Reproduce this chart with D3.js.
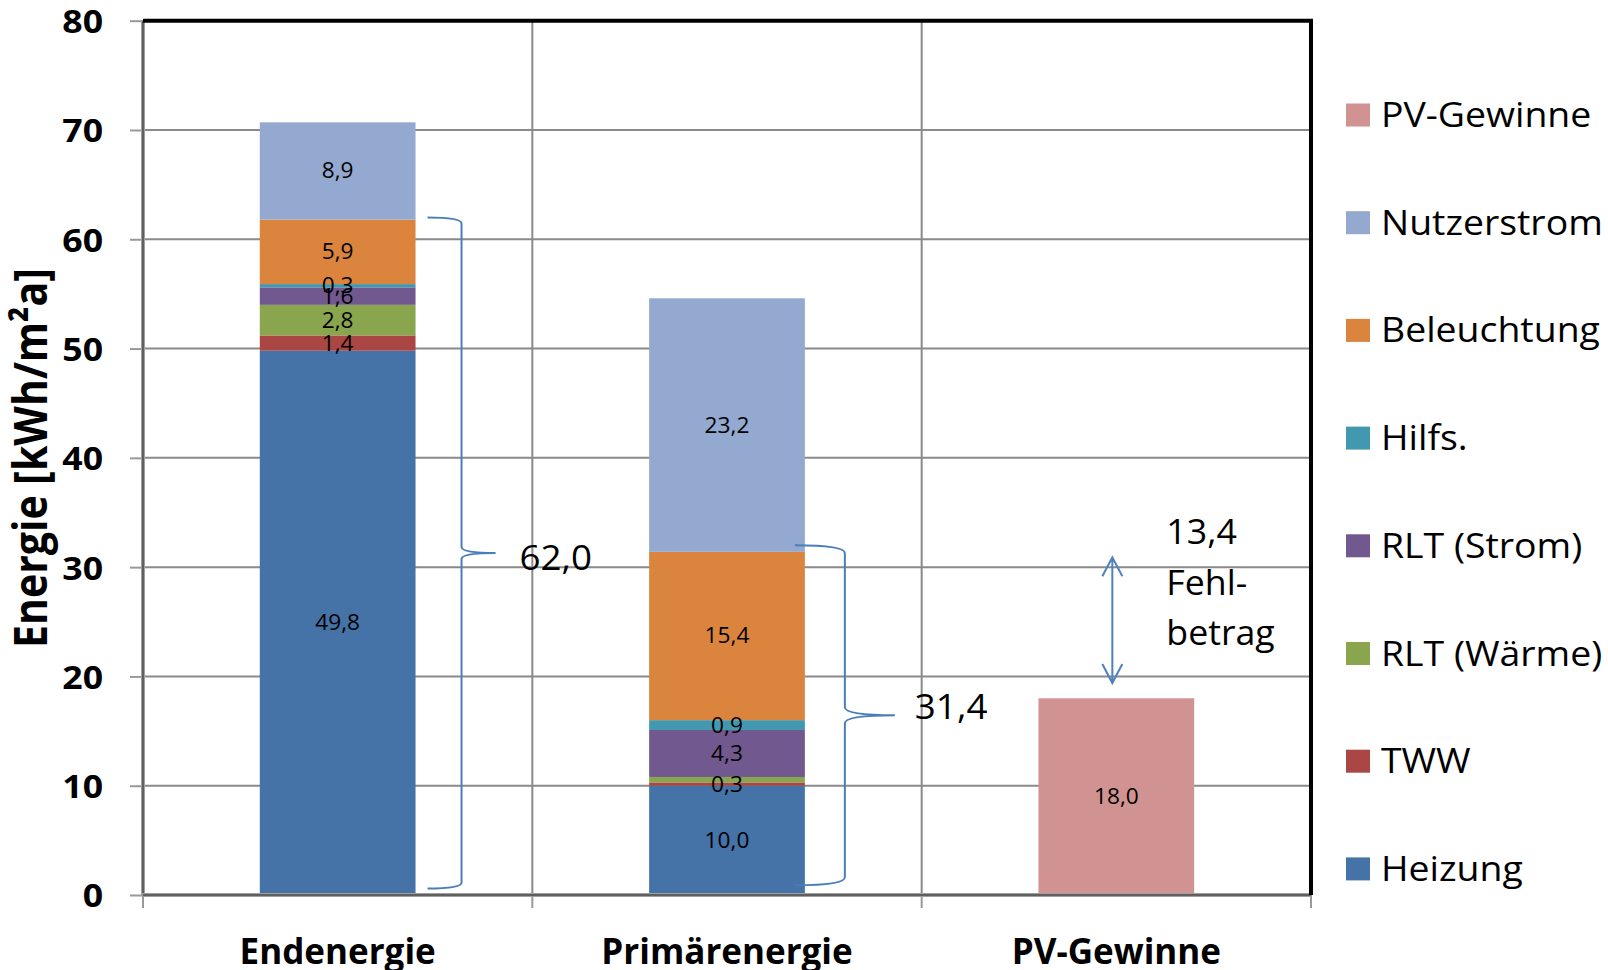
<!DOCTYPE html>
<html>
<head>
<meta charset="utf-8">
<script src="https://cdn.jsdelivr.net/npm/d3@7"></script>
<style>
  body { margin: 0; background: #fff; }
  text { font-family: "Open Sans", "Noto Sans", sans-serif; fill: #000; }
</style>
</head>
<body>
<div id="chart"></div>
<script>
// chart values
var categories = ["Endenergie", "Primärenergie", "PV-Gewinne"];
var seriesNames = ["Heizung", "TWW", "RLT (Wärme)", "RLT (Strom)", "Hilfs.", "Beleuchtung", "Nutzerstrom", "PV-Gewinne"];
var seriesColors = ["#4572a7", "#aa4643", "#89a54e", "#71588f", "#4198af", "#db843d", "#93a9cf", "#d19392"];

var heizung     = [49.8, 10.0, 0];
var tww         = [1.4, 0.3, 0];
var rltWaerme   = [2.8, 0.5, 0];
var rltStrom    = [1.6, 4.3, 0];
var hilfs       = [0.3, 0.9, 0];
var beleuchtung = [5.9, 15.4, 0];
var nutzerstrom = [8.9, 23.2, 0];
var pvGewinne   = [0, 0, 18.0];

var yTicks = [0, 10, 20, 30, 40, 50, 60, 70, 80];
var hiddenLabels = ["RLT (Wärme)|Primärenergie"]; // label not shown in the original

// brace annotations (value range they span + their text)
var braceCats    = ["Endenergie", "Primärenergie"];
var braceTops    = [62.0, 32.0];
var braceBottoms = [0.6, 0.9];
var braceTexts   = ["62,0", "31,4"];

// gap arrow on the PV bar
var gapTop = 30.9, gapBottom = 19.4;
var gapTexts = ["13,4", "Fehl-", "betrag"];

// layout
var W = 1608, H = 970;
var plot = {left: 143, right: 1311, top: 20.7, bottom: 895};

var svg = d3.select('#chart').append('svg')
    .attr('width', W)
    .attr('height', H);

var x = d3.scaleBand().domain(categories).range([plot.left, plot.right]);
var y = d3.scaleLinear().domain([0, 80]).range([plot.bottom, plot.top]);
var barW = x.bandwidth() * 0.4;
var fmt = function(v){ return d3.format('.1f')(v).replace('.', ','); };

// gridlines
svg.append('g')
    .selectAll('line.h')
    .data(yTicks.slice(1))
    .enter().append('line')
    .attr('x1', plot.left).attr('x2', plot.right)
    .attr('y1', function(d){ return y(d); })
    .attr('y2', function(d){ return y(d); })
    .attr('stroke', '#8a8a8a')
    .attr('stroke-width', 2);

svg.append('g')
    .selectAll('line.v')
    .data(categories.slice(1))
    .enter().append('line')
    .attr('x1', function(d){ return x(d); })
    .attr('x2', function(d){ return x(d); })
    .attr('y1', plot.top).attr('y2', plot.bottom)
    .attr('stroke', '#8a8a8a')
    .attr('stroke-width', 2);

// stacked bars
var rows = categories.map(function(c, i){
    return {cat: c, 'Heizung': heizung[i], 'TWW': tww[i], 'RLT (Wärme)': rltWaerme[i],
        'RLT (Strom)': rltStrom[i], 'Hilfs.': hilfs[i], 'Beleuchtung': beleuchtung[i],
        'Nutzerstrom': nutzerstrom[i], 'PV-Gewinne': pvGewinne[i]};
});
var stacked = d3.stack().keys(seriesNames)(rows);

var layers = svg.append('g').selectAll('g')
    .data(stacked)
    .enter().append('g')
    .attr('fill', function(d, i){ return seriesColors[i]; });

layers.selectAll('rect')
    .data(function(d){ return d.map(function(p){ p.key = d.key; return p; }); })
    .enter().filter(function(d){ return d[1] - d[0] > 0; })
    .append('rect')
    .attr('x', function(d){ return x(d.data.cat) + (x.bandwidth() - barW) / 2; })
    .attr('width', barW)
    .attr('y', function(d){ return y(d[1]); })
    .attr('height', function(d){ return y(d[0]) - y(d[1]); });

// data labels
var labelData = [];
stacked.forEach(function(s){
    s.forEach(function(p){
        var v = p[1] - p[0];
        if (v > 0 && hiddenLabels.indexOf(s.key + '|' + p.data.cat) < 0) {
            labelData.push({cat: p.data.cat, mid: (p[0] + p[1]) / 2, v: p.data[s.key]});
        }
    });
});
svg.append('g').selectAll('text')
    .data(labelData)
    .enter().append('text')
    .attr('text-anchor', 'middle')
    .attr('font-size', 21)
    .attr('transform', function(d){
        return 'translate(' + (x(d.cat) + x.bandwidth() / 2) + ',' + (y(d.mid) + 7.5) + ') scale(1.08,1)';
    })
    .text(function(d){ return fmt(d.v); });

// y axis
var yAxis = svg.append('g')
    .attr('transform', 'translate(' + plot.left + ',0)')
    .call(d3.axisLeft(y).tickValues(yTicks).tickSizeInner(13).tickSizeOuter(0).tickPadding(27));
yAxis.select('.domain').remove();
yAxis.selectAll('.tick line').attr('stroke', '#999').attr('stroke-width', 2);
yAxis.selectAll('.tick text')
    .attr('font-size', 33)
    .attr('font-weight', 'bold')
    .attr('font-family', '"Open Sans", sans-serif')
    .attr('fill', '#000')
    .attr('dy', '0.36em')
    .attr('transform', 'scale(1.08,1)')
    .attr('x', -41 / 1.08 + 1);

// x axis ticks at category boundaries
var bounds = categories.map(function(c){ return x(c); }).concat([plot.right]);
svg.append('g').selectAll('line')
    .data(bounds)
    .enter().append('line')
    .attr('x1', function(d){ return d; }).attr('x2', function(d){ return d; })
    .attr('y1', plot.bottom).attr('y2', plot.bottom + 13)
    .attr('stroke', '#999').attr('stroke-width', 2);

var xAxis = svg.append('g')
    .attr('transform', 'translate(0,' + plot.bottom + ')')
    .call(d3.axisBottom(x).tickSize(0).tickPadding(0));
xAxis.select('.domain').remove();
xAxis.selectAll('.tick text')
    .attr('font-size', 35)
    .attr('font-weight', 'bold')
    .attr('font-family', '"Open Sans", sans-serif')
    .attr('fill', '#000')
    .attr('dy', 0)
    .attr('y', 69);

// axis lines (double grey like the original) and black frame on top/right
svg.append('line')
    .attr('x1', plot.left).attr('x2', plot.left)
    .attr('y1', plot.top).attr('y2', plot.bottom + 1)
    .attr('stroke', '#a0a0a0').attr('stroke-width', 4);
svg.append('line')
    .attr('x1', plot.left).attr('x2', plot.left)
    .attr('y1', plot.top).attr('y2', plot.bottom)
    .attr('stroke', '#606060').attr('stroke-width', 2);
svg.append('line')
    .attr('x1', plot.left - 1).attr('x2', plot.right)
    .attr('y1', plot.bottom).attr('y2', plot.bottom)
    .attr('stroke', '#a0a0a0').attr('stroke-width', 4);
svg.append('line')
    .attr('x1', plot.left).attr('x2', plot.right)
    .attr('y1', plot.bottom).attr('y2', plot.bottom)
    .attr('stroke', '#606060').attr('stroke-width', 2);
svg.append('path')
    .attr('d', 'M' + plot.left + ',' + plot.top + 'H' + plot.right + 'V' + plot.bottom)
    .attr('fill', 'none')
    .attr('stroke', '#000')
    .attr('stroke-width', 4);

// y axis title
svg.append('text')
    .attr('transform', 'translate(47,458) rotate(-90) scale(1,1.12)')
    .attr('text-anchor', 'middle')
    .attr('font-size', 41)
    .attr('font-weight', 'bold')
    .text('Energie [kWh/m²a]');

// braces
var braceLayout = [
    {start: 12, spine: 46, tip: 80, r: 6, textDx: 24, textDy: 17},
    {start: -10, spine: 40, tip: 90, r: 8, textDx: 20, textDy: 4}
];
var braceColor = '#4a7ebb';
braceCats.forEach(function(c, i){
    var L = braceLayout[i];
    var right = x(c) + (x.bandwidth() + barW) / 2;
    var x0 = right + L.start, xs = right + L.spine, xt = right + L.tip;
    var yt = y(braceTops[i]), yb = y(braceBottoms[i]), ym = (yt + yb) / 2, r = L.r;
    var p = d3.path();
    p.moveTo(x0, yt);
    p.quadraticCurveTo(xs, yt, xs, yt + r);
    p.lineTo(xs, ym - r);
    p.quadraticCurveTo(xs, ym, xt, ym);
    p.moveTo(xt, ym);
    p.quadraticCurveTo(xs, ym, xs, ym + r);
    p.lineTo(xs, yb - r);
    p.quadraticCurveTo(xs, yb, x0, yb);
    svg.append('path')
        .attr('d', p.toString())
        .attr('fill', 'none')
        .attr('stroke', braceColor)
        .attr('stroke-width', 2);
    svg.append('text')
        .attr('font-size', 35)
        .attr('transform', 'translate(' + (xt + L.textDx) + ',' + (ym + L.textDy) + ') scale(1.05,1)')
        .text(braceTexts[i]);
});

// gap arrow
var ax = x('PV-Gewinne') + x.bandwidth() / 2 - 4;
var ya = y(gapTop), yb2 = y(gapBottom);
svg.append('path')
    .attr('d', 'M' + ax + ',' + ya + 'V' + yb2 +
        'M' + (ax - 10) + ',' + (ya + 19) + 'L' + ax + ',' + ya + 'L' + (ax + 10) + ',' + (ya + 19) +
        'M' + (ax - 10) + ',' + (yb2 - 19) + 'L' + ax + ',' + yb2 + 'L' + (ax + 10) + ',' + (yb2 - 19))
    .attr('fill', 'none')
    .attr('stroke', '#4f81bd')
    .attr('stroke-width', 2);
svg.append('g').selectAll('text')
    .data(gapTexts)
    .enter().append('text')
    .attr('font-size', 34)
    .attr('transform', function(d, i){
        return 'translate(' + (ax + 54) + ',' + (ya - 13 + i * 50.5) + ') scale(1.05,1)';
    })
    .text(function(d){ return d; });

// legend (reverse series order, like the stack)
var legendNames = seriesNames.slice().reverse();
var legendColors = seriesColors.slice().reverse();
var legend = svg.append('g').selectAll('g')
    .data(legendNames)
    .enter().append('g')
    .attr('transform', function(d, i){ return 'translate(1346,' + (115 + i * 107.7) + ')'; });
legend.append('rect')
    .attr('x', 0).attr('y', -11.5)
    .attr('width', 24).attr('height', 23)
    .attr('fill', function(d, i){ return legendColors[i]; });
legend.append('text')
    .attr('font-size', 34)
    .attr('transform', 'translate(35,12) scale(1.1,1)')
    .text(function(d){ return d; });
</script>
</body>
</html>
